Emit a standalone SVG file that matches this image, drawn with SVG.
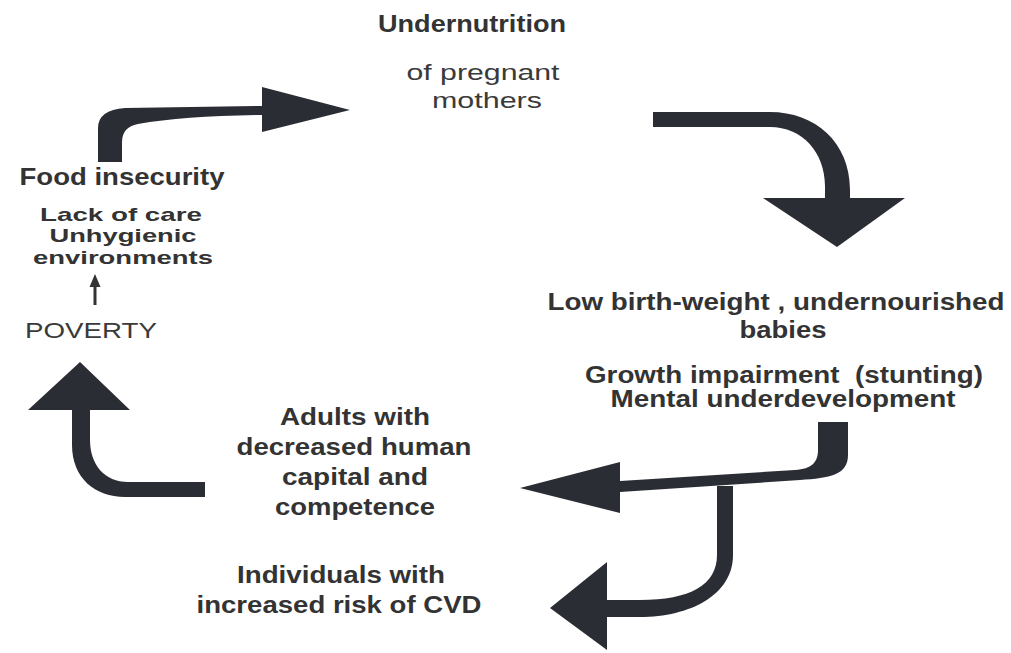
<svg xmlns="http://www.w3.org/2000/svg" width="1011" height="653" viewBox="0 0 1011 653">
<style>
  .b { font-family: "Liberation Sans", Arial, sans-serif; font-weight: bold; font-size: 23px; fill: #333333; }
  .s { font-size: 19px; }
  .r { font-family: "Liberation Sans", Arial, sans-serif; font-weight: normal; font-size: 22px; fill: #3a3a3a; }
  .arrow { fill: #2b2d35; stroke: none; }
</style>
<rect width="1011" height="653" fill="#ffffff"/>

<g id="connectors">
  <path class="arrow" d="M98,162 L98,128 Q98,110 125,108 L262,106 L262,87 L350,110 L262,132 L262,115 Q185,116 138,124 Q122,127 122,142 L122,162 Z"/>
  <path class="arrow" d="M653,112 L770,112 C815,112 850,142 850,190 L850,198 L905,198 L837,247 L763,198 L825,198 L825,186 C825,152 802,127 770,127 L653,127 Z"/>
  <path class="arrow" d="M205,482 L128,482 C105,482 90,465 90,440 L90,410 L130,410 L80,362 L28,410 L72,410 L72,445 C72,478 95,497 125,497 L205,497 Z"/>
  <path class="arrow" d="M818,422 L848,422 L848,455 C848,475 830,478 800,480 L620,492 L620,513 L520,488 L620,462 L620,481 L795,470 C812,469 818,462 818,450 Z"/>
  <path class="arrow" d="M717,486 L733,486 L733,555 C733,595 690,617 640,617 L607,617 L607,650 L550,608 L607,562 L607,600 L640,600 C690,600 717,585 717,555 Z"/>
  <line x1="95" y1="305" x2="95" y2="284" stroke="#333333" stroke-width="3"/>
  <path d="M95,274 L89.5,287 L100.5,287 Z" fill="#333333"/>
</g>

<g id="node-undernutrition">
  <text class="b" x="472" y="32" text-anchor="middle" textLength="188" lengthAdjust="spacingAndGlyphs">Undernutrition</text>
  <text class="r" x="483" y="80" text-anchor="middle" textLength="153" lengthAdjust="spacingAndGlyphs">of pregnant</text>
  <text class="r" x="487" y="108" text-anchor="middle" textLength="110" lengthAdjust="spacingAndGlyphs">mothers</text>
</g>

<g id="node-babies">
  <text class="b" x="776" y="310" text-anchor="middle" textLength="457" lengthAdjust="spacingAndGlyphs">Low birth-weight , undernourished</text>
  <text class="b" x="783" y="338" text-anchor="middle" textLength="87" lengthAdjust="spacingAndGlyphs">babies</text>
  <text class="b" x="784" y="383" text-anchor="middle" textLength="398" lengthAdjust="spacingAndGlyphs" xml:space="preserve">Growth impairment  (stunting)</text>
  <text class="b" x="783" y="407" text-anchor="middle" textLength="345" lengthAdjust="spacingAndGlyphs">Mental underdevelopment</text>
</g>

<g id="node-adults">
  <text class="b" x="355" y="425" text-anchor="middle" textLength="150" lengthAdjust="spacingAndGlyphs">Adults with</text>
  <text class="b" x="354" y="455" text-anchor="middle" textLength="235" lengthAdjust="spacingAndGlyphs">decreased human</text>
  <text class="b" x="355" y="485" text-anchor="middle" textLength="146" lengthAdjust="spacingAndGlyphs">capital and</text>
  <text class="b" x="355" y="515" text-anchor="middle" textLength="160" lengthAdjust="spacingAndGlyphs">competence</text>
</g>

<g id="node-individuals">
  <text class="b" x="341" y="583" text-anchor="middle" textLength="208" lengthAdjust="spacingAndGlyphs">Individuals with</text>
  <text class="b" x="339" y="613" text-anchor="middle" textLength="285" lengthAdjust="spacingAndGlyphs">increased risk of CVD</text>
</g>

<g id="node-poverty">
  <text class="b" x="122" y="185" text-anchor="middle" textLength="205" lengthAdjust="spacingAndGlyphs">Food insecurity</text>
  <text class="b s" x="121" y="221" text-anchor="middle" textLength="162" lengthAdjust="spacingAndGlyphs">Lack of care</text>
  <text class="b s" x="123" y="242" text-anchor="middle" textLength="147" lengthAdjust="spacingAndGlyphs">Unhygienic</text>
  <text class="b s" x="123" y="264" text-anchor="middle" textLength="180" lengthAdjust="spacingAndGlyphs">environments</text>
  <text class="r" x="91" y="338" text-anchor="middle" textLength="132" lengthAdjust="spacingAndGlyphs">POVERTY</text>
</g>
</svg>
